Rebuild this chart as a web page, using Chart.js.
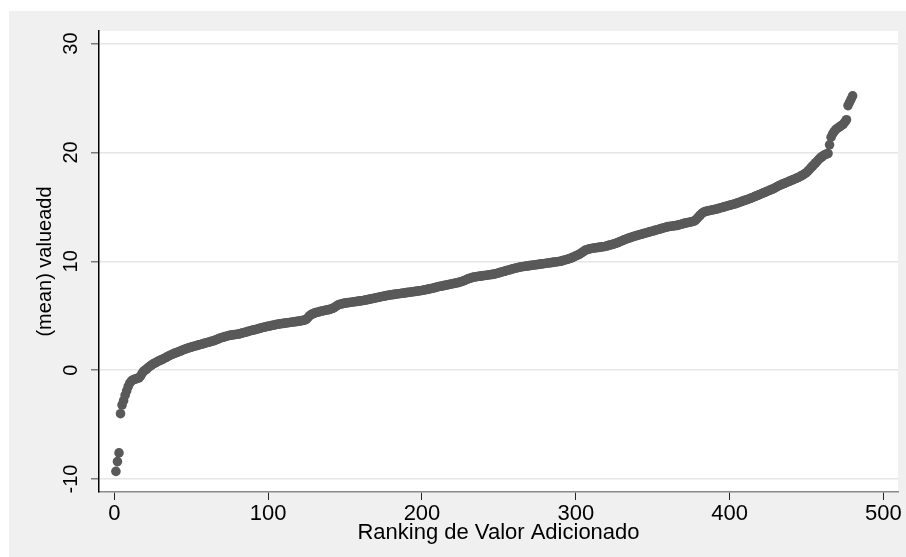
<!DOCTYPE html>
<html>
<head>
<meta charset="utf-8">
<script src="https://cdn.jsdelivr.net/npm/chart.js@4.4.0/dist/chart.umd.min.js"></script>
<style>
  html, body { margin: 0; padding: 0; background: #ffffff; }
  #wrap { position: absolute; left: 9px; top: 11px; width: 897px; height: 546px; background: #f0f0f0; }
</style>
</head>
<body>
<div id="wrap"><canvas id="myChart" width="897" height="546"></canvas></div>
<script>
// mean value added, sorted (rank 1 .. 480)
const valueadd = [
  -9.3, -8.4, -7.6, -4.0, -3.2, -2.8, -2.3, -1.9, -1.5, -1.2,
  -1.0, -0.9, -0.85, -0.8, -0.75, -0.7, -0.55, -0.3, -0.1, 0.0,
  0.1, 0.25, 0.35, 0.45, 0.55, 0.62, 0.7, 0.78, 0.85, 0.92,
  0.98, 1.05, 1.12, 1.2, 1.28, 1.35, 1.42, 1.48, 1.55, 1.6,
  1.65, 1.7, 1.76, 1.82, 1.88, 1.93, 1.98, 2.03, 2.08, 2.12,
  2.16, 2.2, 2.24, 2.28, 2.32, 2.36, 2.4, 2.44, 2.48, 2.52,
  2.56, 2.6, 2.64, 2.68, 2.72, 2.78, 2.84, 2.9, 2.96, 3.0,
  3.04, 3.08, 3.12, 3.16, 3.2, 3.22, 3.24, 3.26, 3.28, 3.3,
  3.33, 3.36, 3.4, 3.44, 3.48, 3.52, 3.56, 3.6, 3.64, 3.68,
  3.7, 3.74, 3.78, 3.82, 3.86, 3.9, 3.94, 3.97, 4.0, 4.03,
  4.06, 4.09, 4.12, 4.15, 4.18, 4.21, 4.24, 4.26, 4.28, 4.3,
  4.32, 4.34, 4.36, 4.38, 4.4, 4.42, 4.44, 4.46, 4.48, 4.5,
  4.52, 4.55, 4.58, 4.62, 4.7, 4.85, 5.0, 5.1, 5.18, 5.24,
  5.28, 5.32, 5.36, 5.4, 5.43, 5.46, 5.49, 5.52, 5.55, 5.58,
  5.62, 5.68, 5.75, 5.85, 5.95, 6.02, 6.06, 6.1, 6.13, 6.16,
  6.18, 6.2, 6.22, 6.24, 6.26, 6.28, 6.3, 6.32, 6.34, 6.36,
  6.38, 6.4, 6.43, 6.46, 6.49, 6.52, 6.55, 6.58, 6.61, 6.64,
  6.67, 6.7, 6.73, 6.76, 6.79, 6.82, 6.85, 6.88, 6.9, 6.92,
  6.94, 6.96, 6.98, 7.0, 7.02, 7.04, 7.06, 7.08, 7.1, 7.12,
  7.14, 7.16, 7.18, 7.2, 7.22, 7.24, 7.26, 7.28, 7.3, 7.32,
  7.35, 7.38, 7.41, 7.44, 7.47, 7.5, 7.53, 7.56, 7.6, 7.64,
  7.68, 7.7, 7.73, 7.76, 7.79, 7.82, 7.85, 7.88, 7.91, 7.94,
  7.97, 8.0, 8.03, 8.06, 8.1, 8.15, 8.2, 8.26, 8.32, 8.38,
  8.44, 8.48, 8.52, 8.55, 8.58, 8.6, 8.62, 8.64, 8.66, 8.68,
  8.7, 8.72, 8.74, 8.76, 8.78, 8.8, 8.83, 8.86, 8.9, 8.94,
  8.98, 9.02, 9.06, 9.1, 9.14, 9.18, 9.22, 9.26, 9.3, 9.34,
  9.38, 9.41, 9.44, 9.47, 9.5, 9.52, 9.54, 9.56, 9.58, 9.6,
  9.62, 9.64, 9.66, 9.68, 9.7, 9.72, 9.74, 9.76, 9.78, 9.8,
  9.82, 9.84, 9.86, 9.88, 9.9, 9.92, 9.94, 9.96, 9.98, 10.0,
  10.04, 10.08, 10.12, 10.16, 10.2, 10.25, 10.3, 10.36, 10.42, 10.5,
  10.56, 10.62, 10.7, 10.8, 10.9, 11.0, 11.06, 11.1, 11.14, 11.17,
  11.2, 11.22, 11.24, 11.26, 11.28, 11.3, 11.32, 11.34, 11.36, 11.4,
  11.44, 11.48, 11.52, 11.56, 11.6, 11.65, 11.7, 11.76, 11.82, 11.88,
  11.94, 12.0, 12.05, 12.1, 12.15, 12.2, 12.25, 12.3, 12.34, 12.38,
  12.42, 12.46, 12.5, 12.54, 12.58, 12.62, 12.66, 12.7, 12.74, 12.78,
  12.82, 12.86, 12.9, 12.94, 12.98, 13.02, 13.06, 13.1, 13.14, 13.18,
  13.2, 13.22, 13.24, 13.26, 13.28, 13.3, 13.34, 13.38, 13.42, 13.46,
  13.5, 13.53, 13.56, 13.59, 13.62, 13.65, 13.7, 13.8, 13.95, 14.1,
  14.25, 14.4, 14.5, 14.56, 14.6, 14.63, 14.66, 14.69, 14.72, 14.75,
  14.78, 14.82, 14.86, 14.9, 14.94, 14.98, 15.02, 15.06, 15.1, 15.14,
  15.18, 15.22, 15.26, 15.3, 15.35, 15.4, 15.45, 15.5, 15.55, 15.6,
  15.65, 15.7, 15.75, 15.8, 15.86, 15.92, 15.98, 16.04, 16.1, 16.16,
  16.22, 16.28, 16.34, 16.4, 16.46, 16.52, 16.58, 16.64, 16.7, 16.78,
  16.86, 16.94, 17.0, 17.06, 17.12, 17.18, 17.24, 17.3, 17.36, 17.42,
  17.48, 17.54, 17.6, 17.66, 17.72, 17.8, 17.88, 17.96, 18.05, 18.15,
  18.3, 18.45, 18.6, 18.75, 18.9, 19.05, 19.2, 19.35, 19.5, 19.6,
  19.7, 19.8, 19.85, 19.9, 20.7, 21.4, 21.7, 21.9, 22.1, 22.2,
  22.3, 22.4, 22.5, 22.6, 22.8, 23.0, 24.3, 24.6, 24.9, 25.2
];

// axis ticks
const xTicks = [0, 100, 200, 300, 400, 500];
const yTicks = [-10, 0, 10, 20, 30];

const xTitle = 'Ranking de Valor Adicionado';
const yTitle = '(mean) valueadd';

// points: rank on x, value on y
const points = valueadd.map((v, i) => ({ x: i + 1, y: v }));

const fontFamily = "'Liberation Sans', Arial, sans-serif";
const xFont = { family: fontFamily, size: 22 };
const yFont = { family: fontFamily, size: 20 };

// white plot region
const plotBg = {
  id: 'plotBg',
  beforeDraw(chart) {
    const a = chart.chartArea;
    const ctx = chart.ctx;
    ctx.save();
    ctx.fillStyle = '#ffffff';
    ctx.fillRect(a.left, a.top, a.right - a.left, a.bottom - a.top);
    ctx.restore();
  }
};

const ctx = document.getElementById('myChart').getContext('2d');
const myChart = new Chart(ctx, {
  type: 'scatter',
  data: {
    datasets: [{
      data: points,
      backgroundColor: '#595959',
      borderWidth: 0,
      pointRadius: 4.8,
      pointHoverRadius: 4.8
    }]
  },
  options: {
    responsive: false,
    animation: false,
    devicePixelRatio: 1,
    layout: { padding: { left: 0, top: 20, right: 8, bottom: 0 } },
    plugins: { legend: { display: false }, tooltip: { enabled: false } },
    scales: {
      x: {
        type: 'linear',
        position: 'bottom',
        min: -10,
        max: 509.5,
        afterBuildTicks: (s) => { s.ticks = xTicks.map(v => ({ value: v })); },
        afterFit: (s) => { s.height = 65; },
        border: { color: '#8a8a8a', width: 1.5 },
        grid: { drawOnChartArea: false, tickLength: 8, tickColor: '#222222', tickWidth: 1 },
        ticks: { font: xFont, color: '#000000', padding: 1, maxRotation: 0 },
        title: { display: true, text: xTitle, font: xFont, color: '#000000', padding: { top: 0, bottom: 11 } }
      },
      y: {
        type: 'linear',
        min: -11.19,
        max: 31.15,
        afterBuildTicks: (s) => { s.ticks = yTicks.map(v => ({ value: v })); },
        afterFit: (s) => { s.width = 90; },
        border: { color: '#000000', width: 1.5 },
        grid: { color: '#e6e6e6', lineWidth: 1.5, tickLength: 8, tickColor: '#7a7a7a', tickWidth: 1.5 },
        ticks: { font: yFont, color: '#000000', padding: 5, minRotation: 90, maxRotation: 90, crossAlign: 'center' },
        title: { display: true, text: yTitle, font: yFont, color: '#000000', padding: { top: 24, bottom: 0 } }
      }
    }
  },
  plugins: [plotBg]
});
</script>
</body>
</html>
